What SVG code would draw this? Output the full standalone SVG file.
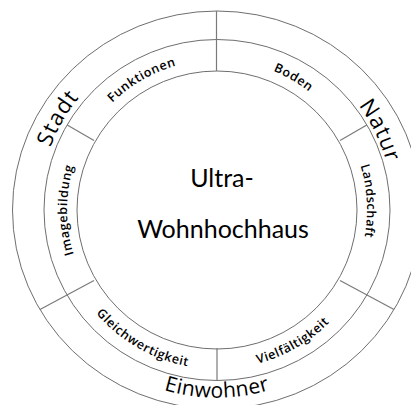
<svg xmlns="http://www.w3.org/2000/svg" xmlns:xlink="http://www.w3.org/1999/xlink" width="411" height="405" viewBox="0 0 411 405">
  <style>
    .ring { fill: none; stroke: #6e6e6e; stroke-width: 1; }
    .div { stroke: #7a7a7a; stroke-width: 1.2; }
    .outer { font-family: "Open Sans", "Liberation Sans", sans-serif; font-size: 22px; font-weight: 500; letter-spacing: 1px; fill: #000; }
    .inner { font-family: "Open Sans", "Liberation Sans", sans-serif; font-size: 12.5px; font-weight: 600; letter-spacing: 0.6px; fill: #000; }
    .center { font-family: Lato, "Liberation Sans", sans-serif; font-size: 25px; fill: #000; text-anchor: middle; }
  </style>
  <defs>
    <path id="pStadt" d="M62.85,299 A178,178 0 0 1 217,32"/>
    <path id="pNatur" d="M229.3,34.4 A176,176 0 0 1 362.9,308.4"/>
    <path id="pEinwohner" d="M55,303 A186,186 0 0 0 379,303"/>
    <path id="pFunktionen" d="M67,210 A150,150 0 0 1 292,80.1"/>
    <path id="pBoden" d="M142,80.1 A150,150 0 0 1 367,210"/>
    <path id="pLandschaft" d="M283,75 A150,150 0 0 1 298,336"/>
    <path id="pImagebildung" d="M142,339.9 A150,150 0 0 1 142,80.1"/>
    <path id="pGleich" d="M58,210 A159,159 0 0 0 296.5,347.7"/>
    <path id="pVielf" d="M137.5,347.7 A159,159 0 0 0 376,210"/>
  </defs>
  <rect width="411" height="405" fill="#ffffff"/>

  <g id="rings">
    <ellipse class="ring" cx="217" cy="210" rx="204.5" ry="199"/>
    <ellipse class="ring" cx="217" cy="210" rx="173" ry="170.5"/>
    <ellipse class="ring" cx="217" cy="210" rx="140" ry="139"/>
  </g>

  <g id="connectors">
    <line class="div" x1="216.5" y1="11" x2="216.5" y2="71"/>
    <line class="div" x1="217" y1="348" x2="217" y2="381"/>
    <line class="div" x1="67.2" y1="125" x2="94" y2="140.5"/>
    <line class="div" x1="366.8" y1="125" x2="340" y2="140.5"/>
    <line class="div" x1="40" y1="309.5" x2="94" y2="280.5"/>
    <line class="div" x1="394" y1="309.5" x2="340" y2="280.5"/>
  </g>

  <g id="center">
    <text class="center" x="222" y="187">Ultra-</text>
    <text class="center" x="223" y="238">Wohnhochhaus</text>
  </g>

  <g id="stadt"><text class="outer"><textPath xlink:href="#pStadt" href="#pStadt" startOffset="50%" text-anchor="middle">Stadt</textPath></text></g>
  <g id="natur"><text class="outer"><textPath xlink:href="#pNatur" href="#pNatur" startOffset="50%" text-anchor="middle">Natur</textPath></text></g>
  <g id="einwohner"><text class="outer" style="font-size:21px;letter-spacing:0.3px"><textPath xlink:href="#pEinwohner" href="#pEinwohner" startOffset="50%" text-anchor="middle">Einwohner</textPath></text></g>

  <g id="funktionen"><text class="inner"><textPath xlink:href="#pFunktionen" href="#pFunktionen" startOffset="50%" text-anchor="middle">Funktionen</textPath></text></g>
  <g id="boden"><text class="inner"><textPath xlink:href="#pBoden" href="#pBoden" startOffset="50%" text-anchor="middle">Boden</textPath></text></g>
  <g id="landschaft"><text class="inner"><textPath xlink:href="#pLandschaft" href="#pLandschaft" startOffset="50%" text-anchor="middle">Landschaft</textPath></text></g>
  <g id="imagebildung"><text class="inner"><textPath xlink:href="#pImagebildung" href="#pImagebildung" startOffset="50%" text-anchor="middle">Imagebildung</textPath></text></g>
  <g id="gleichwertigkeit"><text class="inner"><textPath xlink:href="#pGleich" href="#pGleich" startOffset="50%" text-anchor="middle">Gleichwertigkeit</textPath></text></g>
  <g id="vielfaeltigkeit"><text class="inner"><textPath xlink:href="#pVielf" href="#pVielf" startOffset="50%" text-anchor="middle">Vielfältigkeit</textPath></text></g>
</svg>
